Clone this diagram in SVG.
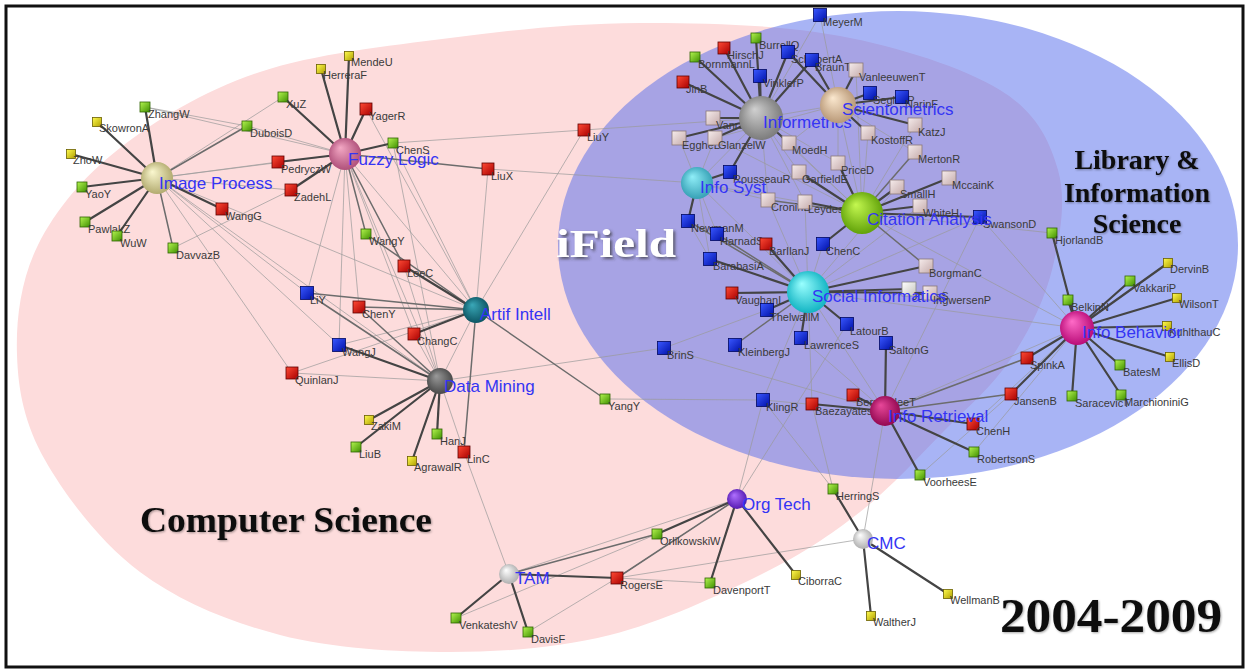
<svg xmlns="http://www.w3.org/2000/svg" width="1250" height="671" viewBox="0 0 1250 671">
<defs>
<style>
.l{stroke:#9a9a9a;stroke-width:1;stroke-opacity:.7}
.m{stroke:#6c6c6c;stroke-width:1.5}
.d{stroke:#444;stroke-width:2.2}
.n text{font-family:"Liberation Sans",Arial,sans-serif;font-size:11px;fill:#3a3a3a}
.h text{font-family:"Liberation Sans",Arial,sans-serif;font-size:17px;fill:#3434f4}
rect.cg{fill:url(#gG);stroke:#2f6400;stroke-width:.8}
rect.cy{fill:url(#gY);stroke:#6a6000;stroke-width:.8}
rect.cr{fill:url(#gR);stroke:#600000;stroke-width:.8}
rect.cb{fill:url(#gB);stroke:#000860;stroke-width:.8}
rect.cp{fill:url(#gP);stroke:#8a7878;stroke-width:.8}
rect.cw{fill:url(#gW);stroke:#888;stroke-width:.8}
.big{font-family:"Liberation Serif","Times New Roman",serif;font-weight:bold;fill:#111}
</style>
<linearGradient id="gG" x1="0" y1="0" x2="1" y2="1"><stop offset="0" stop-color="#b4f550"/><stop offset="1" stop-color="#3f8f00"/></linearGradient>
<linearGradient id="gY" x1="0" y1="0" x2="1" y2="1"><stop offset="0" stop-color="#fffb50"/><stop offset="1" stop-color="#b0a000"/></linearGradient>
<linearGradient id="gR" x1="0" y1="0" x2="1" y2="1"><stop offset="0" stop-color="#ff4a35"/><stop offset="1" stop-color="#a80000"/></linearGradient>
<linearGradient id="gB" x1="0" y1="0" x2="1" y2="1"><stop offset="0" stop-color="#3a58ff"/><stop offset="1" stop-color="#0010a8"/></linearGradient>
<linearGradient id="gP" x1="0" y1="0" x2="1" y2="1"><stop offset="0" stop-color="#f6ecec"/><stop offset="1" stop-color="#c4aaaa"/></linearGradient>
<linearGradient id="gW" x1="0" y1="0" x2="1" y2="1"><stop offset="0" stop-color="#ffffff"/><stop offset="1" stop-color="#c4c4bc"/></linearGradient>
<radialGradient id="hIP" cx=".5" cy=".5" r=".6" fx=".35" fy=".3"><stop offset="0" stop-color="#fbf8d0"/><stop offset="1" stop-color="#a8a062"/></radialGradient>
<radialGradient id="hFL" cx=".5" cy=".5" r=".6" fx=".35" fy=".3"><stop offset="0" stop-color="#f3a8c4"/><stop offset="1" stop-color="#a64470"/></radialGradient>
<radialGradient id="hAI" cx=".5" cy=".5" r=".6" fx=".35" fy=".3"><stop offset="0" stop-color="#3aa8b8"/><stop offset="1" stop-color="#064a58"/></radialGradient>
<radialGradient id="hDM" cx=".5" cy=".5" r=".6" fx=".35" fy=".3"><stop offset="0" stop-color="#9a9a9a"/><stop offset="1" stop-color="#3e3e3e"/></radialGradient>
<radialGradient id="hINF" cx=".5" cy=".5" r=".6" fx=".35" fy=".3"><stop offset="0" stop-color="#d0d0d0"/><stop offset="1" stop-color="#707070"/></radialGradient>
<radialGradient id="hSCI" cx=".5" cy=".5" r=".6" fx=".35" fy=".3"><stop offset="0" stop-color="#fbe8cf"/><stop offset="1" stop-color="#b08e6c"/></radialGradient>
<radialGradient id="hIS" cx=".5" cy=".5" r=".6" fx=".35" fy=".3"><stop offset="0" stop-color="#90eef8"/><stop offset="1" stop-color="#2a96ac"/></radialGradient>
<radialGradient id="hCA" cx=".5" cy=".5" r=".6" fx=".35" fy=".3"><stop offset="0" stop-color="#c4f850"/><stop offset="1" stop-color="#549600"/></radialGradient>
<radialGradient id="hSI" cx=".5" cy=".5" r=".6" fx=".35" fy=".3"><stop offset="0" stop-color="#9affff"/><stop offset="1" stop-color="#00aabb"/></radialGradient>
<radialGradient id="hIB" cx=".5" cy=".5" r=".6" fx=".35" fy=".3"><stop offset="0" stop-color="#ff6cc8"/><stop offset="1" stop-color="#b0006e"/></radialGradient>
<radialGradient id="hIR" cx=".5" cy=".5" r=".6" fx=".35" fy=".3"><stop offset="0" stop-color="#e8489a"/><stop offset="1" stop-color="#880048"/></radialGradient>
<radialGradient id="hOT" cx=".5" cy=".5" r=".6" fx=".35" fy=".3"><stop offset="0" stop-color="#b070ff"/><stop offset="1" stop-color="#4a10a8"/></radialGradient>
<radialGradient id="hGR" cx=".5" cy=".5" r=".6" fx=".35" fy=".3"><stop offset="0" stop-color="#ffffff"/><stop offset="1" stop-color="#a4a4a4"/></radialGradient>
<filter id="sh" x="-5%" y="-20%" width="110%" height="140%"><feDropShadow dx="1" dy="1" stdDeviation="1" flood-color="#000" flood-opacity=".35"/></filter>
<filter id="shw" x="-10%" y="-20%" width="120%" height="150%"><feDropShadow dx="2" dy="2" stdDeviation="1.5" flood-color="#333" flood-opacity=".7"/></filter>
</defs>
<rect x="0" y="0" width="1250" height="671" fill="#fff"/>
<g id="regions">
<path id="cs-region" fill="#fddcdc" d="M640,23 C705,22.7 780,24.8 840,36 C900,47.2 963.7,67.7 1000,90 C1036.3,112.3 1049.3,140 1058,170 C1066.7,200 1060,238.3 1052,270 C1044,301.7 1028.2,333 1010,360 C991.8,387 968,406.7 943,432 C918,457.3 890.5,488.2 860,512 C829.5,535.8 801.7,554.5 760,575 C718.3,595.5 661.7,622.2 610,635 C558.3,647.8 505,652 450,652 C395,652 331.7,648.3 280,635 C228.3,621.7 179.2,601.2 140,572 C100.8,542.8 65.5,496.2 45,460 C24.5,423.8 18.2,390.8 17,355 C15.8,319.2 20.8,279.5 38,245 C55.2,210.5 83,176.8 120,148 C157,119.2 205,90.3 260,72 C315,53.7 386.7,46.2 450,38 C513.3,29.8 575,23.3 640,23 Z"/>
<ellipse id="lis-region" cx="898" cy="245" rx="340" ry="234" fill="#5169eb" fill-opacity=".5"/>
</g>
<g id="connectors" fill="none" stroke-linecap="round">
<line class="l" x1="157" y1="178" x2="345" y2="154"/>
<line class="l" x1="157" y1="178" x2="278" y2="162"/>
<line class="l" x1="157" y1="178" x2="291" y2="190"/>
<line class="l" x1="157" y1="178" x2="283" y2="97"/>
<line class="l" x1="157" y1="178" x2="476" y2="310"/>
<line class="l" x1="157" y1="178" x2="307" y2="293"/>
<line class="l" x1="157" y1="178" x2="339" y2="345"/>
<line class="l" x1="157" y1="178" x2="292" y2="373"/>
<line class="l" x1="157" y1="178" x2="440" y2="381"/>
<line class="l" x1="145" y1="107" x2="247" y2="126"/>
<line class="l" x1="145" y1="107" x2="345" y2="154"/>
<line class="l" x1="247" y1="126" x2="345" y2="154"/>
<line class="l" x1="173" y1="248" x2="291" y2="190"/>
<line class="l" x1="345" y1="154" x2="307" y2="293"/>
<line class="l" x1="345" y1="154" x2="359" y2="307"/>
<line class="l" x1="345" y1="154" x2="414" y2="334"/>
<line class="l" x1="345" y1="154" x2="440" y2="381"/>
<line class="l" x1="345" y1="154" x2="476" y2="310"/>
<line class="l" x1="345" y1="154" x2="339" y2="345"/>
<line class="l" x1="366" y1="109" x2="476" y2="310"/>
<line class="l" x1="393" y1="143" x2="584" y2="130"/>
<line class="l" x1="393" y1="143" x2="440" y2="381"/>
<line class="l" x1="393" y1="143" x2="476" y2="310"/>
<line class="l" x1="488" y1="169" x2="476" y2="310"/>
<line class="l" x1="488" y1="169" x2="697" y2="183"/>
<line class="l" x1="584" y1="130" x2="476" y2="310"/>
<line class="l" x1="584" y1="130" x2="761" y2="118"/>
<line class="l" x1="404" y1="266" x2="440" y2="381"/>
<line class="l" x1="414" y1="334" x2="440" y2="381"/>
<line class="l" x1="292" y1="373" x2="440" y2="381"/>
<line class="l" x1="292" y1="373" x2="476" y2="310"/>
<line class="l" x1="339" y1="345" x2="476" y2="310"/>
<line class="l" x1="440" y1="381" x2="476" y2="310"/>
<line class="l" x1="440" y1="381" x2="664" y2="348"/>
<line class="l" x1="605" y1="399" x2="763" y2="400"/>
<line class="l" x1="464" y1="452" x2="509" y2="574"/>
<line class="l" x1="464" y1="452" x2="440" y2="381"/>
<line class="l" x1="509" y1="574" x2="737" y2="499"/>
<line class="l" x1="456" y1="618" x2="657" y2="534"/>
<line class="l" x1="528" y1="632" x2="617" y2="578"/>
<line class="l" x1="617" y1="578" x2="737" y2="499"/>
<line class="l" x1="617" y1="578" x2="710" y2="583"/>
<line class="l" x1="617" y1="578" x2="863" y2="539"/>
<line class="l" x1="737" y1="499" x2="763" y2="400"/>
<line class="l" x1="737" y1="499" x2="847" y2="324"/>
<line class="l" x1="863" y1="539" x2="885" y2="411"/>
<line class="l" x1="833" y1="489" x2="763" y2="400"/>
<line class="l" x1="833" y1="489" x2="812" y2="404"/>
<line class="l" x1="920" y1="475" x2="1011" y2="394"/>
<line class="l" x1="974" y1="452" x2="1077" y2="328"/>
<line class="l" x1="973" y1="424" x2="1077" y2="328"/>
<line class="l" x1="885" y1="411" x2="1077" y2="328"/>
<line class="l" x1="885" y1="411" x2="763" y2="400"/>
<line class="l" x1="885" y1="411" x2="801" y2="338"/>
<line class="l" x1="885" y1="411" x2="808" y2="292"/>
<line class="l" x1="885" y1="411" x2="664" y2="348"/>
<line class="l" x1="664" y1="348" x2="767" y2="310"/>
<line class="l" x1="763" y1="400" x2="808" y2="292"/>
<line class="l" x1="812" y1="404" x2="808" y2="292"/>
<line class="l" x1="980" y1="217" x2="1077" y2="328"/>
<line class="l" x1="980" y1="217" x2="885" y2="411"/>
<line class="l" x1="1052" y1="233" x2="862" y2="213"/>
<line class="l" x1="862" y1="213" x2="1077" y2="328"/>
<line class="l" x1="808" y1="292" x2="1077" y2="328"/>
<line class="l" x1="761" y1="118" x2="838" y2="105"/>
<line class="l" x1="761" y1="118" x2="862" y2="213"/>
<line class="l" x1="838" y1="105" x2="862" y2="213"/>
<line class="l" x1="761" y1="118" x2="697" y2="183"/>
<line class="l" x1="697" y1="183" x2="808" y2="292"/>
<line class="l" x1="697" y1="183" x2="862" y2="213"/>
<line class="l" x1="838" y1="105" x2="915" y2="152"/>
<line class="l" x1="838" y1="105" x2="715" y2="138"/>
<line class="l" x1="838" y1="105" x2="789" y2="143"/>
<line class="l" x1="838" y1="105" x2="838" y2="163"/>
<line class="l" x1="838" y1="105" x2="820" y2="15"/>
<line class="l" x1="761" y1="118" x2="820" y2="15"/>
<line class="l" x1="761" y1="118" x2="838" y2="163"/>
<line class="l" x1="761" y1="118" x2="799" y2="172"/>
<line class="l" x1="761" y1="118" x2="768" y2="200"/>
<line class="l" x1="761" y1="118" x2="805" y2="202"/>
<line class="l" x1="862" y1="213" x2="868" y2="133"/>
<line class="l" x1="862" y1="213" x2="915" y2="125"/>
<line class="l" x1="862" y1="213" x2="789" y2="143"/>
<line class="l" x1="862" y1="213" x2="715" y2="138"/>
<line class="l" x1="862" y1="213" x2="856" y2="70"/>
<line class="l" x1="808" y1="292" x2="805" y2="202"/>
<line class="l" x1="808" y1="292" x2="768" y2="200"/>
<line class="l" x1="808" y1="292" x2="823" y2="244"/>
<line class="l" x1="808" y1="292" x2="897" y2="187"/>
<line class="l" x1="808" y1="292" x2="920" y2="206"/>
<line class="l" x1="808" y1="292" x2="980" y2="217"/>
<line class="l" x1="697" y1="183" x2="710" y2="259"/>
<line class="l" x1="697" y1="183" x2="717" y2="234"/>
<line class="l" x1="697" y1="183" x2="679" y2="138"/>
<line class="l" x1="697" y1="183" x2="768" y2="200"/>
<line class="l" x1="697" y1="183" x2="715" y2="138"/>
<line class="l" x1="688" y1="221" x2="710" y2="259"/>
<line class="m" x1="157" y1="178" x2="247" y2="126"/>
<line class="m" x1="157" y1="178" x2="173" y2="248"/>
<line class="m" x1="345" y1="154" x2="366" y2="234"/>
<line class="m" x1="345" y1="154" x2="404" y2="266"/>
<line class="m" x1="345" y1="154" x2="488" y2="169"/>
<line class="m" x1="476" y1="310" x2="359" y2="307"/>
<line class="m" x1="476" y1="310" x2="307" y2="293"/>
<line class="m" x1="476" y1="310" x2="605" y2="399"/>
<line class="m" x1="476" y1="310" x2="464" y2="452"/>
<line class="m" x1="476" y1="310" x2="366" y2="234"/>
<line class="m" x1="440" y1="381" x2="307" y2="293"/>
<line class="m" x1="440" y1="381" x2="359" y2="307"/>
<line class="m" x1="862" y1="213" x2="768" y2="200"/>
<line class="m" x1="862" y1="213" x2="926" y2="266"/>
<line class="m" x1="862" y1="213" x2="915" y2="152"/>
<line class="m" x1="808" y1="292" x2="735" y2="345"/>
<line class="m" x1="808" y1="292" x2="717" y2="234"/>
<line class="m" x1="808" y1="292" x2="688" y2="221"/>
<line class="m" x1="885" y1="411" x2="1011" y2="394"/>
<line class="m" x1="885" y1="411" x2="1027" y2="358"/>
<line class="m" x1="737" y1="499" x2="617" y2="578"/>
<line class="m" x1="509" y1="574" x2="657" y2="534"/>
<line class="d" x1="157" y1="178" x2="145" y2="107"/>
<line class="d" x1="157" y1="178" x2="97" y2="122"/>
<line class="d" x1="157" y1="178" x2="71" y2="154"/>
<line class="d" x1="157" y1="178" x2="82" y2="187"/>
<line class="d" x1="157" y1="178" x2="85" y2="222"/>
<line class="d" x1="157" y1="178" x2="117" y2="236"/>
<line class="d" x1="157" y1="178" x2="222" y2="209"/>
<line class="d" x1="345" y1="154" x2="283" y2="97"/>
<line class="d" x1="345" y1="154" x2="321" y2="69"/>
<line class="d" x1="345" y1="154" x2="349" y2="56"/>
<line class="d" x1="345" y1="154" x2="366" y2="109"/>
<line class="d" x1="345" y1="154" x2="393" y2="143"/>
<line class="d" x1="345" y1="154" x2="278" y2="162"/>
<line class="d" x1="345" y1="154" x2="291" y2="190"/>
<line class="d" x1="476" y1="310" x2="404" y2="266"/>
<line class="d" x1="476" y1="310" x2="414" y2="334"/>
<line class="d" x1="440" y1="381" x2="369" y2="420"/>
<line class="d" x1="440" y1="381" x2="356" y2="447"/>
<line class="d" x1="440" y1="381" x2="412" y2="461"/>
<line class="d" x1="440" y1="381" x2="437" y2="434"/>
<line class="d" x1="440" y1="381" x2="339" y2="345"/>
<line class="d" x1="761" y1="118" x2="695" y2="57"/>
<line class="d" x1="761" y1="118" x2="724" y2="48"/>
<line class="d" x1="761" y1="118" x2="756" y2="38"/>
<line class="d" x1="761" y1="118" x2="760" y2="76"/>
<line class="d" x1="761" y1="118" x2="683" y2="82"/>
<line class="d" x1="761" y1="118" x2="788" y2="52"/>
<line class="d" x1="761" y1="118" x2="812" y2="60"/>
<line class="d" x1="761" y1="118" x2="713" y2="118"/>
<line class="d" x1="761" y1="118" x2="679" y2="138"/>
<line class="d" x1="761" y1="118" x2="715" y2="138"/>
<line class="d" x1="761" y1="118" x2="789" y2="143"/>
<line class="d" x1="761" y1="118" x2="730" y2="172"/>
<line class="d" x1="838" y1="105" x2="856" y2="70"/>
<line class="d" x1="838" y1="105" x2="870" y2="93"/>
<line class="d" x1="838" y1="105" x2="902" y2="97"/>
<line class="d" x1="838" y1="105" x2="915" y2="125"/>
<line class="d" x1="838" y1="105" x2="868" y2="133"/>
<line class="d" x1="838" y1="105" x2="788" y2="52"/>
<line class="d" x1="838" y1="105" x2="812" y2="60"/>
<line class="d" x1="862" y1="213" x2="897" y2="187"/>
<line class="d" x1="862" y1="213" x2="920" y2="206"/>
<line class="d" x1="862" y1="213" x2="949" y2="178"/>
<line class="d" x1="862" y1="213" x2="805" y2="202"/>
<line class="d" x1="862" y1="213" x2="799" y2="172"/>
<line class="d" x1="862" y1="213" x2="838" y2="163"/>
<line class="d" x1="862" y1="213" x2="823" y2="244"/>
<line class="d" x1="862" y1="213" x2="980" y2="217"/>
<line class="d" x1="808" y1="292" x2="766" y2="244"/>
<line class="d" x1="808" y1="292" x2="732" y2="293"/>
<line class="d" x1="808" y1="292" x2="767" y2="310"/>
<line class="d" x1="808" y1="292" x2="801" y2="338"/>
<line class="d" x1="808" y1="292" x2="710" y2="259"/>
<line class="d" x1="808" y1="292" x2="926" y2="266"/>
<line class="d" x1="808" y1="292" x2="909" y2="289"/>
<line class="d" x1="808" y1="292" x2="930" y2="293"/>
<line class="d" x1="808" y1="292" x2="847" y2="324"/>
<line class="d" x1="697" y1="183" x2="688" y2="221"/>
<line class="d" x1="697" y1="183" x2="730" y2="172"/>
<line class="d" x1="1077" y1="328" x2="1052" y2="233"/>
<line class="d" x1="1077" y1="328" x2="1068" y2="300"/>
<line class="d" x1="1077" y1="328" x2="1130" y2="281"/>
<line class="d" x1="1077" y1="328" x2="1168" y2="263"/>
<line class="d" x1="1077" y1="328" x2="1177" y2="298"/>
<line class="d" x1="1077" y1="328" x2="1167" y2="326"/>
<line class="d" x1="1077" y1="328" x2="1170" y2="357"/>
<line class="d" x1="1077" y1="328" x2="1120" y2="365"/>
<line class="d" x1="1077" y1="328" x2="1121" y2="395"/>
<line class="d" x1="1077" y1="328" x2="1072" y2="396"/>
<line class="d" x1="1077" y1="328" x2="1027" y2="358"/>
<line class="d" x1="1077" y1="328" x2="1011" y2="394"/>
<line class="d" x1="885" y1="411" x2="886" y2="343"/>
<line class="d" x1="885" y1="411" x2="853" y2="395"/>
<line class="d" x1="885" y1="411" x2="812" y2="404"/>
<line class="d" x1="885" y1="411" x2="973" y2="424"/>
<line class="d" x1="885" y1="411" x2="974" y2="452"/>
<line class="d" x1="885" y1="411" x2="920" y2="475"/>
<line class="d" x1="737" y1="499" x2="657" y2="534"/>
<line class="d" x1="737" y1="499" x2="710" y2="583"/>
<line class="d" x1="737" y1="499" x2="796" y2="575"/>
<line class="d" x1="509" y1="574" x2="456" y2="618"/>
<line class="d" x1="509" y1="574" x2="528" y2="632"/>
<line class="d" x1="509" y1="574" x2="617" y2="578"/>
<line class="d" x1="863" y1="539" x2="833" y2="489"/>
<line class="d" x1="863" y1="539" x2="871" y2="616"/>
<line class="d" x1="863" y1="539" x2="948" y2="594"/>
</g>
<g id="nodes">
<g id="ZhangW" class="n"><rect class="cg" x="140" y="102" width="10" height="10"/><text x="148" y="118">ZhangW</text></g>
<g id="SkowronA" class="n"><rect class="cy" x="92.5" y="117.5" width="9" height="9"/><text x="99" y="132">SkowronA</text></g>
<g id="ZhoW" class="n"><rect class="cy" x="66.5" y="149.5" width="9" height="9"/><text x="73" y="164">ZhoW</text></g>
<g id="YaoY" class="n"><rect class="cg" x="77" y="182" width="10" height="10"/><text x="85" y="198">YaoY</text></g>
<g id="PawlakZ" class="n"><rect class="cg" x="80" y="217" width="10" height="10"/><text x="88" y="233">PawlakZ</text></g>
<g id="WuW" class="n"><rect class="cg" x="112" y="231" width="10" height="10"/><text x="120" y="247">WuW</text></g>
<g id="DavvazB" class="n"><rect class="cg" x="168" y="243" width="10" height="10"/><text x="176" y="259">DavvazB</text></g>
<g id="DuboisD" class="n"><rect class="cg" x="242" y="121" width="10" height="10"/><text x="250" y="137">DuboisD</text></g>
<g id="XuZ" class="n"><rect class="cg" x="278" y="92" width="10" height="10"/><text x="286" y="108">XuZ</text></g>
<g id="PedryczW" class="n"><rect class="cr" x="272" y="156" width="12" height="12"/><text x="281" y="173">PedryczW</text></g>
<g id="ZadehL" class="n"><rect class="cr" x="285" y="184" width="12" height="12"/><text x="294" y="201">ZadehL</text></g>
<g id="WangG" class="n"><rect class="cr" x="216" y="203" width="12" height="12"/><text x="225" y="220">WangG</text></g>
<g id="MendeU" class="n"><rect class="cy" x="344.5" y="51.5" width="9" height="9"/><text x="351" y="66">MendeU</text></g>
<g id="HerreraF" class="n"><rect class="cy" x="316.5" y="64.5" width="9" height="9"/><text x="323" y="79">HerreraF</text></g>
<g id="YagerR" class="n"><rect class="cr" x="360" y="103" width="12" height="12"/><text x="369" y="120">YagerR</text></g>
<g id="ChenS" class="n"><rect class="cg" x="388" y="138" width="10" height="10"/><text x="396" y="154">ChenS</text></g>
<g id="LiuY" class="n"><rect class="cr" x="578" y="124" width="12" height="12"/><text x="587" y="141">LiuY</text></g>
<g id="LiuX" class="n"><rect class="cr" x="482" y="163" width="12" height="12"/><text x="491" y="180">LiuX</text></g>
<g id="WangY" class="n"><rect class="cg" x="361" y="229" width="10" height="10"/><text x="369" y="245">WangY</text></g>
<g id="LeeC" class="n"><rect class="cr" x="398" y="260" width="12" height="12"/><text x="407" y="277">LeeC</text></g>
<g id="LiY" class="n"><rect class="cb" x="300.5" y="286.5" width="13" height="13"/><text x="310" y="304">LiY</text></g>
<g id="ChenY" class="n"><rect class="cr" x="353" y="301" width="12" height="12"/><text x="362" y="318">ChenY</text></g>
<g id="ChangC" class="n"><rect class="cr" x="408" y="328" width="12" height="12"/><text x="417" y="345">ChangC</text></g>
<g id="WangJ" class="n"><rect class="cb" x="332.5" y="338.5" width="13" height="13"/><text x="342" y="356">WangJ</text></g>
<g id="QuinlanJ" class="n"><rect class="cr" x="286" y="367" width="12" height="12"/><text x="295" y="384">QuinlanJ</text></g>
<g id="YangY" class="n"><rect class="cg" x="600" y="394" width="10" height="10"/><text x="608" y="410">YangY</text></g>
<g id="ZakiM" class="n"><rect class="cy" x="364.5" y="415.5" width="9" height="9"/><text x="371" y="430">ZakiM</text></g>
<g id="HanJ" class="n"><rect class="cg" x="432" y="429" width="10" height="10"/><text x="440" y="445">HanJ</text></g>
<g id="LiuB" class="n"><rect class="cg" x="351" y="442" width="10" height="10"/><text x="359" y="458">LiuB</text></g>
<g id="AgrawalR" class="n"><rect class="cy" x="407.5" y="456.5" width="9" height="9"/><text x="414" y="471">AgrawalR</text></g>
<g id="LinC" class="n"><rect class="cr" x="458" y="446" width="12" height="12"/><text x="467" y="463">LinC</text></g>
<g id="MeyerM" class="n"><rect class="cb" x="813.5" y="8.5" width="13" height="13"/><text x="823" y="26">MeyerM</text></g>
<g id="BurrellQ" class="n"><rect class="cg" x="751" y="33" width="10" height="10"/><text x="759" y="49">BurrellQ</text></g>
<g id="HirschJ" class="n"><rect class="cr" x="718" y="42" width="12" height="12"/><text x="727" y="59">HirschJ</text></g>
<g id="BornmannL" class="n"><rect class="cg" x="690" y="52" width="10" height="10"/><text x="698" y="68">BornmannL</text></g>
<g id="SchubertA" class="n"><rect class="cb" x="781.5" y="45.5" width="13" height="13"/><text x="791" y="63">SchubertA</text></g>
<g id="BraunT" class="n"><rect class="cb" x="805.5" y="53.5" width="13" height="13"/><text x="815" y="71">BraunT</text></g>
<g id="VinklerP" class="n"><rect class="cb" x="753.5" y="69.5" width="13" height="13"/><text x="763" y="87">VinklerP</text></g>
<g id="JinB" class="n"><rect class="cr" x="677" y="76" width="12" height="12"/><text x="686" y="93">JinB</text></g>
<g id="VanraanA" class="n"><rect class="cp" x="706" y="111" width="14" height="14"/><text x="716" y="129">VanraanA</text></g>
<g id="EggheL" class="n"><rect class="cp" x="672" y="131" width="14" height="14"/><text x="682" y="149">EggheL</text></g>
<g id="GlanzelW" class="n"><rect class="cp" x="708" y="131" width="14" height="14"/><text x="718" y="149">GlanzelW</text></g>
<g id="MoedH" class="n"><rect class="cp" x="782" y="136" width="14" height="14"/><text x="792" y="154">MoedH</text></g>
<g id="RousseauR" class="n"><rect class="cb" x="723.5" y="165.5" width="13" height="13"/><text x="733" y="183">RousseauR</text></g>
<g id="GarfieldE" class="n"><rect class="cp" x="792" y="165" width="14" height="14"/><text x="802" y="183">GarfieldE</text></g>
<g id="CroninB" class="n"><rect class="cp" x="761" y="193" width="14" height="14"/><text x="771" y="211">CroninB</text></g>
<g id="LeydesdorffL" class="n"><rect class="cp" x="798" y="195" width="14" height="14"/><text x="808" y="213">LeydesdorffL</text></g>
<g id="NewmanM" class="n"><rect class="cb" x="681.5" y="214.5" width="13" height="13"/><text x="691" y="232">NewmanM</text></g>
<g id="VanleeuwenT" class="n"><rect class="cp" x="849" y="63" width="14" height="14"/><text x="859" y="81">VanleeuwenT</text></g>
<g id="SeglenP" class="n"><rect class="cb" x="863.5" y="86.5" width="13" height="13"/><text x="873" y="104">SeglenP</text></g>
<g id="NarinF" class="n"><rect class="cb" x="895.5" y="90.5" width="13" height="13"/><text x="905" y="108">NarinF</text></g>
<g id="KatzJ" class="n"><rect class="cp" x="908" y="118" width="14" height="14"/><text x="918" y="136">KatzJ</text></g>
<g id="KostoffR" class="n"><rect class="cp" x="861" y="126" width="14" height="14"/><text x="871" y="144">KostoffR</text></g>
<g id="MertonR" class="n"><rect class="cp" x="908" y="145" width="14" height="14"/><text x="918" y="163">MertonR</text></g>
<g id="PriceD" class="n"><rect class="cp" x="831" y="156" width="14" height="14"/><text x="841" y="174">PriceD</text></g>
<g id="MccainK" class="n"><rect class="cp" x="942" y="171" width="14" height="14"/><text x="952" y="189">MccainK</text></g>
<g id="SmallH" class="n"><rect class="cp" x="890" y="180" width="14" height="14"/><text x="900" y="198">SmallH</text></g>
<g id="WhiteH" class="n"><rect class="cp" x="913" y="199" width="14" height="14"/><text x="923" y="217">WhiteH</text></g>
<g id="SwansonD" class="n"><rect class="cb" x="973.5" y="210.5" width="13" height="13"/><text x="983" y="228">SwansonD</text></g>
<g id="HarnadS" class="n"><rect class="cb" x="710.5" y="227.5" width="13" height="13"/><text x="720" y="245">HarnadS</text></g>
<g id="BarIlanJ" class="n"><rect class="cr" x="760" y="238" width="12" height="12"/><text x="769" y="255">BarIlanJ</text></g>
<g id="BarabasiA" class="n"><rect class="cb" x="703.5" y="252.5" width="13" height="13"/><text x="713" y="270">BarabasiA</text></g>
<g id="ChenC" class="n"><rect class="cb" x="816.5" y="237.5" width="13" height="13"/><text x="826" y="255">ChenC</text></g>
<g id="VaughanL" class="n"><rect class="cr" x="726" y="287" width="12" height="12"/><text x="735" y="304">VaughanL</text></g>
<g id="ThelwallM" class="n"><rect class="cb" x="760.5" y="303.5" width="13" height="13"/><text x="770" y="321">ThelwallM</text></g>
<g id="LawrenceS" class="n"><rect class="cb" x="794.5" y="331.5" width="13" height="13"/><text x="804" y="349">LawrenceS</text></g>
<g id="BrinS" class="n"><rect class="cb" x="657.5" y="341.5" width="13" height="13"/><text x="667" y="359">BrinS</text></g>
<g id="KleinbergJ" class="n"><rect class="cb" x="728.5" y="338.5" width="13" height="13"/><text x="738" y="356">KleinbergJ</text></g>
<g id="KlingR" class="n"><rect class="cb" x="756.5" y="393.5" width="13" height="13"/><text x="766" y="411">KlingR</text></g>
<g id="BaezayatesR" class="n"><rect class="cr" x="806" y="398" width="12" height="12"/><text x="815" y="415">BaezayatesR</text></g>
<g id="BorgmanC" class="n"><rect class="cp" x="919" y="259" width="14" height="14"/><text x="929" y="277">BorgmanC</text></g>
<g id="JonesS" class="n"><rect class="cw" x="902" y="282" width="14" height="14"/><text x="912" y="300">JonesS</text></g>
<g id="IngwersenP" class="n"><rect class="cp" x="923" y="286" width="14" height="14"/><text x="933" y="304">IngwersenP</text></g>
<g id="LatourB" class="n"><rect class="cb" x="840.5" y="317.5" width="13" height="13"/><text x="850" y="335">LatourB</text></g>
<g id="SaltonG" class="n"><rect class="cb" x="879.5" y="336.5" width="13" height="13"/><text x="889" y="354">SaltonG</text></g>
<g id="BernersleeT" class="n"><rect class="cr" x="847" y="389" width="12" height="12"/><text x="856" y="406">BernersleeT</text></g>
<g id="ChenH" class="n"><rect class="cr" x="967" y="418" width="12" height="12"/><text x="976" y="435">ChenH</text></g>
<g id="RobertsonS" class="n"><rect class="cg" x="969" y="447" width="10" height="10"/><text x="977" y="463">RobertsonS</text></g>
<g id="VoorheesE" class="n"><rect class="cg" x="915" y="470" width="10" height="10"/><text x="923" y="486">VoorheesE</text></g>
<g id="HerringS" class="n"><rect class="cg" x="828" y="484" width="10" height="10"/><text x="836" y="500">HerringS</text></g>
<g id="CiborraC" class="n"><rect class="cy" x="791.5" y="570.5" width="9" height="9"/><text x="798" y="585">CiborraC</text></g>
<g id="WellmanB" class="n"><rect class="cy" x="943.5" y="589.5" width="9" height="9"/><text x="950" y="604">WellmanB</text></g>
<g id="WaltherJ" class="n"><rect class="cy" x="866.5" y="611.5" width="9" height="9"/><text x="873" y="626">WaltherJ</text></g>
<g id="OrlikowskiW" class="n"><rect class="cg" x="652" y="529" width="10" height="10"/><text x="660" y="545">OrlikowskiW</text></g>
<g id="RogersE" class="n"><rect class="cr" x="611" y="572" width="12" height="12"/><text x="620" y="589">RogersE</text></g>
<g id="DavenportT" class="n"><rect class="cg" x="705" y="578" width="10" height="10"/><text x="713" y="594">DavenportT</text></g>
<g id="VenkateshV" class="n"><rect class="cg" x="451" y="613" width="10" height="10"/><text x="459" y="629">VenkateshV</text></g>
<g id="DavisF" class="n"><rect class="cg" x="523" y="627" width="10" height="10"/><text x="531" y="643">DavisF</text></g>
<g id="HjorlandB" class="n"><rect class="cg" x="1047" y="228" width="10" height="10"/><text x="1055" y="244">HjorlandB</text></g>
<g id="DervinB" class="n"><rect class="cy" x="1163.5" y="258.5" width="9" height="9"/><text x="1170" y="273">DervinB</text></g>
<g id="VakkariP" class="n"><rect class="cg" x="1125" y="276" width="10" height="10"/><text x="1133" y="292">VakkariP</text></g>
<g id="WilsonT" class="n"><rect class="cy" x="1172.5" y="293.5" width="9" height="9"/><text x="1179" y="308">WilsonT</text></g>
<g id="BelkinN" class="n"><rect class="cg" x="1063" y="295" width="10" height="10"/><text x="1071" y="311">BelkinN</text></g>
<g id="KuhlthauC" class="n"><rect class="cy" x="1162.5" y="321.5" width="9" height="9"/><text x="1169" y="336">KuhlthauC</text></g>
<g id="EllisD" class="n"><rect class="cy" x="1165.5" y="352.5" width="9" height="9"/><text x="1172" y="367">EllisD</text></g>
<g id="BatesM" class="n"><rect class="cg" x="1115" y="360" width="10" height="10"/><text x="1123" y="376">BatesM</text></g>
<g id="SpinkA" class="n"><rect class="cr" x="1021" y="352" width="12" height="12"/><text x="1030" y="369">SpinkA</text></g>
<g id="JansenB" class="n"><rect class="cr" x="1005" y="388" width="12" height="12"/><text x="1014" y="405">JansenB</text></g>
<g id="SaracevicT" class="n"><rect class="cg" x="1067" y="391" width="10" height="10"/><text x="1075" y="407">SaracevicT</text></g>
<g id="MarchioniniG" class="n"><rect class="cg" x="1116" y="390" width="10" height="10"/><text x="1124" y="406">MarchioniniG</text></g>
</g>
<g id="hubs">
<g id="ImageProcess" class="h"><circle cx="157" cy="178" r="16" fill="url(#hIP)"/><text x="159" y="189">Image Process</text></g>
<g id="FuzzyLogic" class="h"><circle cx="345" cy="154" r="16" fill="url(#hFL)"/><text x="348" y="165">Fuzzy Logic</text></g>
<g id="ArtifIntell" class="h"><circle cx="476" cy="310" r="13" fill="url(#hAI)"/><text x="480" y="320">Artif Intell</text></g>
<g id="DataMining" class="h"><circle cx="440" cy="381" r="13" fill="url(#hDM)"/><text x="444" y="392">Data Mining</text></g>
<g id="Informetrics" class="h"><circle cx="761" cy="118" r="22" fill="url(#hINF)"/><text x="763" y="128">Informetrics</text></g>
<g id="Scientometrics" class="h"><circle cx="838" cy="105" r="18" fill="url(#hSCI)"/><text x="842" y="115">Scientometrics</text></g>
<g id="InfoSyst" class="h"><circle cx="697" cy="183" r="16" fill="url(#hIS)"/><text x="700" y="193">Info Syst</text></g>
<g id="CitationAnalysis" class="h"><circle cx="862" cy="213" r="21" fill="url(#hCA)"/><text x="867" y="225">Citation Analysis</text></g>
<g id="SocialInformatics" class="h"><circle cx="808" cy="292" r="21" fill="url(#hSI)"/><text x="812" y="302">Social Informatics</text></g>
<g id="InfoBehavior" class="h"><circle cx="1077" cy="328" r="17" fill="url(#hIB)"/><text x="1082" y="338">Info Behavior</text></g>
<g id="InfoRetrieval" class="h"><circle cx="885" cy="411" r="15" fill="url(#hIR)"/><text x="888" y="422">Info Retrieval</text></g>
<g id="OrgTech" class="h"><circle cx="737" cy="499" r="10" fill="url(#hOT)"/><text x="742" y="510">Org Tech</text></g>
<g id="TAM" class="h"><circle cx="509" cy="574" r="10" fill="url(#hGR)"/><text x="515" y="584">TAM</text></g>
<g id="CMC" class="h"><circle cx="863" cy="539" r="10" fill="url(#hGR)"/><text x="867" y="549">CMC</text></g>
</g>
<g id="titles">
<text class="big" x="140" y="532" font-size="35" textLength="292" lengthAdjust="spacingAndGlyphs" filter="url(#sh)">Computer Science</text>
<text class="big" x="1137" y="169" font-size="28" text-anchor="middle" filter="url(#sh)">Library &amp;</text>
<text class="big" x="1137" y="202" font-size="28" text-anchor="middle" filter="url(#sh)">Information</text>
<text class="big" x="1137" y="233" font-size="28" text-anchor="middle" filter="url(#sh)">Science</text>
<text x="556" y="257" font-family="Liberation Serif,'Times New Roman',serif" font-weight="bold" font-size="40" fill="#fff" textLength="120" lengthAdjust="spacingAndGlyphs" filter="url(#shw)">iField</text>
<text class="big" x="1000" y="632" font-size="48" textLength="222" lengthAdjust="spacingAndGlyphs" filter="url(#sh)">2004-2009</text>
</g>
<rect id="frame" x="6" y="6" width="1237" height="661" fill="none" stroke="#111" stroke-width="3"/>
</svg>
